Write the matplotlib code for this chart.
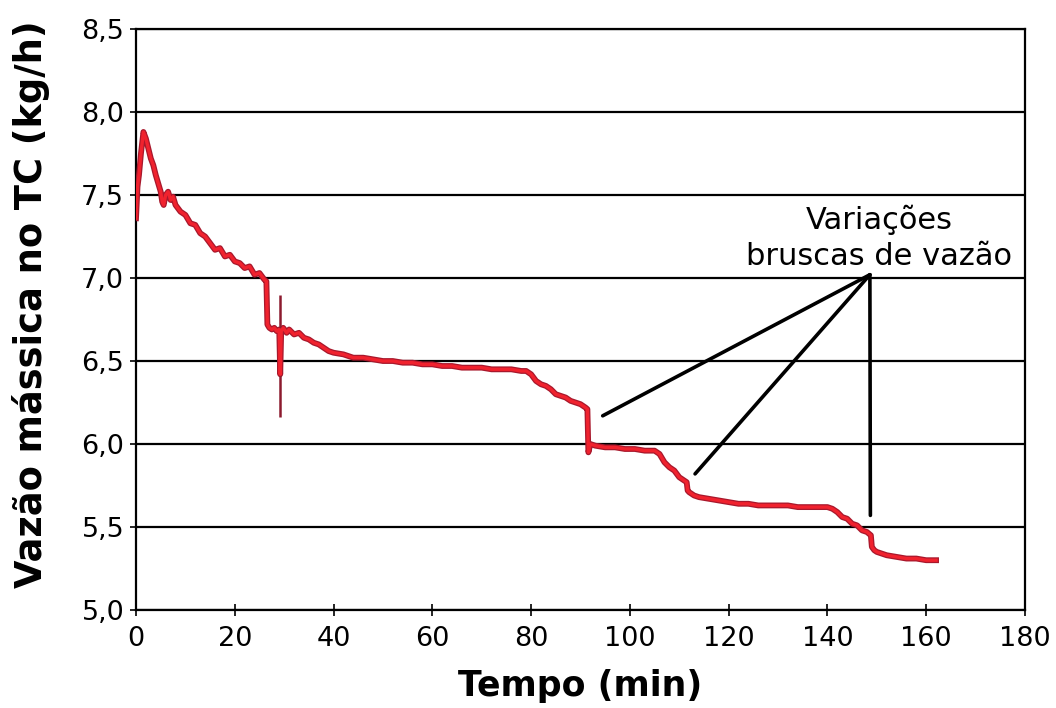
import matplotlib
matplotlib.use("Agg")
import matplotlib.pyplot as plt
from matplotlib.ticker import FuncFormatter

# Mass flow in the test section over time
tempo_min = [
    0.0, 0.3, 0.6, 1.0, 1.5, 2.0, 2.5, 3.0, 3.5, 4.0, 4.5, 5.0, 5.3, 5.6, 6.0,
    6.5, 7.0, 7.5, 8.0, 9.0, 10.0, 11.0, 12.0, 13.0, 14.0, 15.0, 16.0, 17.0,
    18.0, 19.0, 20.0, 21.0, 22.0, 23.0, 24.0, 25.0, 26.0, 26.4, 26.6, 27.0,
    27.5, 28.0, 28.5, 29.0, 29.2, 29.4, 29.8, 30.5, 31.0, 32.0, 33.0, 34.0,
    35.0, 36.0, 37.0, 38.0, 39.0, 40.0, 42.0, 44.0, 46.0, 48.0, 50.0, 52.0,
    54.0, 56.0, 58.0, 60.0, 62.0, 64.0, 66.0, 68.0, 70.0, 72.0, 74.0, 76.0,
    78.0, 79.0, 80.0, 81.0, 82.0, 83.0, 84.0, 85.0, 86.0, 87.0, 88.0, 89.0,
    90.0, 91.0, 91.4, 91.6, 92.0, 93.0, 95.0, 97.0, 99.0, 101.0, 103.0, 105.0,
    106.0, 107.0, 108.0, 109.0, 110.0, 111.0, 111.5, 111.7, 112.0, 113.0,
    114.0, 116.0, 118.0, 120.0, 122.0, 124.0, 126.0, 128.0, 130.0, 132.0,
    134.0, 136.0, 138.0, 140.0, 141.0, 142.0, 143.0, 144.0, 145.0, 146.0,
    147.0, 148.0, 148.8, 149.0, 149.5, 150.0, 152.0, 154.0, 156.0, 158.0,
    160.0, 162.0,
]
vazao_kg_h = [
    7.36, 7.55, 7.62, 7.75, 7.88, 7.84, 7.78, 7.72, 7.68, 7.62, 7.57, 7.52,
    7.46, 7.44, 7.50, 7.52, 7.47, 7.49, 7.44, 7.40, 7.38, 7.33, 7.32, 7.27,
    7.25, 7.21, 7.17, 7.18, 7.13, 7.14, 7.10, 7.09, 7.06, 7.07, 7.02, 7.03,
    6.99, 6.98, 6.72, 6.70, 6.69, 6.70, 6.68, 6.69, 6.42, 6.68, 6.70, 6.67,
    6.69, 6.66, 6.67, 6.64, 6.63, 6.61, 6.60, 6.58, 6.56, 6.55, 6.54, 6.52,
    6.52, 6.51, 6.50, 6.50, 6.49, 6.49, 6.48, 6.48, 6.47, 6.47, 6.46, 6.46,
    6.46, 6.45, 6.45, 6.45, 6.44, 6.44, 6.42, 6.38, 6.36, 6.35, 6.33, 6.30,
    6.29, 6.28, 6.26, 6.25, 6.24, 6.22, 6.21, 5.95, 6.00, 5.99, 5.98, 5.98,
    5.97, 5.97, 5.96, 5.96, 5.94, 5.89, 5.86, 5.84, 5.80, 5.78, 5.77, 5.72,
    5.71, 5.69, 5.68, 5.67, 5.66, 5.65, 5.64, 5.64, 5.63, 5.63, 5.63, 5.63,
    5.62, 5.62, 5.62, 5.62, 5.61, 5.59, 5.56, 5.55, 5.52, 5.51, 5.48, 5.47,
    5.45, 5.38, 5.36, 5.35, 5.33, 5.32, 5.31, 5.31, 5.30, 5.30,
]

# Brief disturbance near t = 29 min (full excursion of the reading)
pico_t = 29.2
pico_min = 6.16
pico_max = 6.90

# Callout pointing to the abrupt flow changes
nota_texto = "Variações\nbruscas de vazão"
nota_texto_pos = (150.5, 7.24)
nota_origem = (148.6, 7.02)
nota_alvos_t = [94.5, 113.2, 148.7]
nota_alvos_v = [6.17, 5.82, 5.57]

x_ticks = [0, 20, 40, 60, 80, 100, 120, 140, 160, 180]
y_ticks = [5.0, 5.5, 6.0, 6.5, 7.0, 7.5, 8.0, 8.5]

fig = plt.figure(figsize=(10.56, 7.08), dpi=100)
ax = fig.add_axes([0.1288, 0.1384, 0.9706 - 0.1288, 0.959 - 0.1384])

ax.set_xlim(0, 180)
ax.set_ylim(5.0, 8.5)
ax.set_xticks(x_ticks)
ax.set_yticks(y_ticks)
ax.yaxis.set_major_formatter(FuncFormatter(lambda v, p: f"{v:.1f}".replace(".", ",")))
ax.grid(axis="y", color="black", linewidth=1.6)
ax.set_axisbelow(True)
for s in ax.spines.values():
    s.set_color("black")
    s.set_linewidth(1.6)
ax.tick_params(axis="both", direction="inout", length=9, width=1.2,
               labelsize=19.5, colors="black")
ax.tick_params(axis="x", pad=7)
ax.tick_params(axis="y", pad=4)

# Flow curve: dark edge under a red core
ax.plot(tempo_min, vazao_kg_h, color="#a8182c", linewidth=4.2,
        solid_joinstyle="round", zorder=3)
ax.plot(tempo_min, vazao_kg_h, color="#f0222e", linewidth=2.4,
        solid_joinstyle="round", zorder=4)
ax.vlines(pico_t, pico_min, pico_max, color="#8c1a2e", linewidth=1.8, zorder=3)

for tx, vy in zip(nota_alvos_t, nota_alvos_v):
    ax.plot([nota_origem[0], tx], [nota_origem[1], vy], color="black",
            linewidth=2.6, solid_capstyle="round", zorder=5)

ax.text(nota_texto_pos[0], nota_texto_pos[1], nota_texto, ha="center",
        va="center", fontsize=22, linespacing=1.3, color="black", zorder=6)

ax.set_xlabel("Tempo (min)", fontsize=25, fontweight="bold", labelpad=12)
ax.set_ylabel("Vazão mássica no TC (kg/h)", fontsize=26.5, fontweight="bold")
ax.yaxis.set_label_coords(-0.097, 0.527)

fig.savefig("out.png", dpi=100)
